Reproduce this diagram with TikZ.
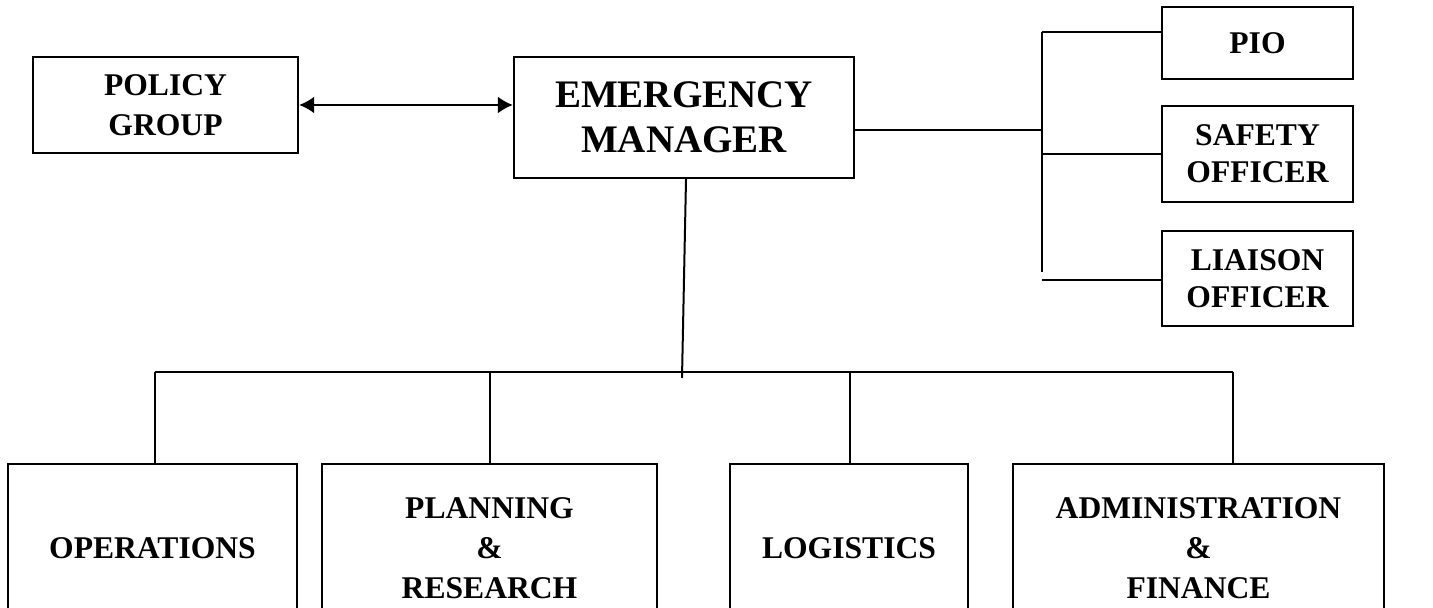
\documentclass[tikz,border=0pt]{standalone}
\usepackage{fontspec}
\setmainfont{Liberation Serif}
\usetikzlibrary{arrows.meta}

\tikzset{
    unitbox/.style={draw, line width=1.2pt, align=center, inner sep=0pt,
        font=\bfseries\fontsize{15.8}{20}\selectfont},
    link/.style={line width=1pt}
}

\begin{document}
\begin{tikzpicture}[x=0.5pt, y=-0.5pt]
    \useasboundingbox (0,0) rectangle (1433,608);
    \clip (0,0) rectangle (1433,608);

    % Top row
    \node[unitbox, minimum width=132.5pt, minimum height=48pt] (policy) at (165.5,105) {POLICY\\GROUP};
    \node[unitbox, minimum width=170pt, minimum height=60.5pt,
          font=\bfseries\fontsize{19.5}{22.5}\selectfont] (manager) at (684,117.5) {EMERGENCY\\MANAGER};

    % Staff boxes on the right
    \node[unitbox, minimum width=95.5pt, minimum height=36pt] (pio) at (1257.5,43) {PIO};
    \node[unitbox, minimum width=95.5pt, minimum height=48pt,
          font=\bfseries\fontsize{15.8}{18.5}\selectfont] (safety) at (1257.5,154) {SAFETY\\OFFICER};
    \node[unitbox, minimum width=95.5pt, minimum height=47.5pt,
          font=\bfseries\fontsize{15.8}{18.5}\selectfont] (liaison) at (1257.5,278.5) {LIAISON\\OFFICER};

    % Sections along the bottom
    \node[unitbox, minimum width=144.5pt, minimum height=84pt] (ops) at (152.5,548) {OPERATIONS};
    \node[unitbox, minimum width=167.5pt, minimum height=84pt] (plan) at (489.5,548) {PLANNING\\\&\\RESEARCH};
    \node[unitbox, minimum width=119pt, minimum height=84pt] (logs) at (849,548) {LOGISTICS};
    \node[unitbox, minimum width=185.5pt, minimum height=84pt] (admin) at (1198.5,548) {ADMINISTRATION\\\&\\FINANCE};

    % Policy group <-> manager
    \draw[link, {Latex[length=7.5pt,width=8.5pt]}-{Latex[length=7.5pt,width=8.5pt]}]
        (policy.east) -- (policy.east -| manager.west);

    % Staff bus
    \coordinate (side-top) at (1042,32);
    \coordinate (side-bot) at (1042,272);
    \draw[link] (side-top) -- (side-bot);
    \draw[link] ([yshift=-6.5pt]manager.east) coordinate (mgr-out) -- (mgr-out -| side-top);
    \draw[link] (side-top) -- (side-top -| pio.west);
    \draw[link] (side-top |- safety.west) -- (safety.west);
    \draw[link] ([yshift=-0.75pt]side-top |- liaison.west) -- ([yshift=-0.75pt]liaison.west);

    % Section bus
    \coordinate (trunk) at (682,378);
    \coordinate (bus-l) at (155,372);
    \coordinate (bus-r) at (1233,372);
    \draw[link] ([xshift=1pt]manager.south) -- (trunk);
    \draw[link] (bus-l) -- (bus-r);
    \draw[link] (bus-l) -- (bus-l |- ops.north);
    \draw[link] (490,372) -- (490,372 |- plan.north);
    \draw[link] (850,372) -- (850,372 |- logs.north);
    \draw[link] (bus-r) -- (bus-r |- admin.north);
\end{tikzpicture}
\end{document}
